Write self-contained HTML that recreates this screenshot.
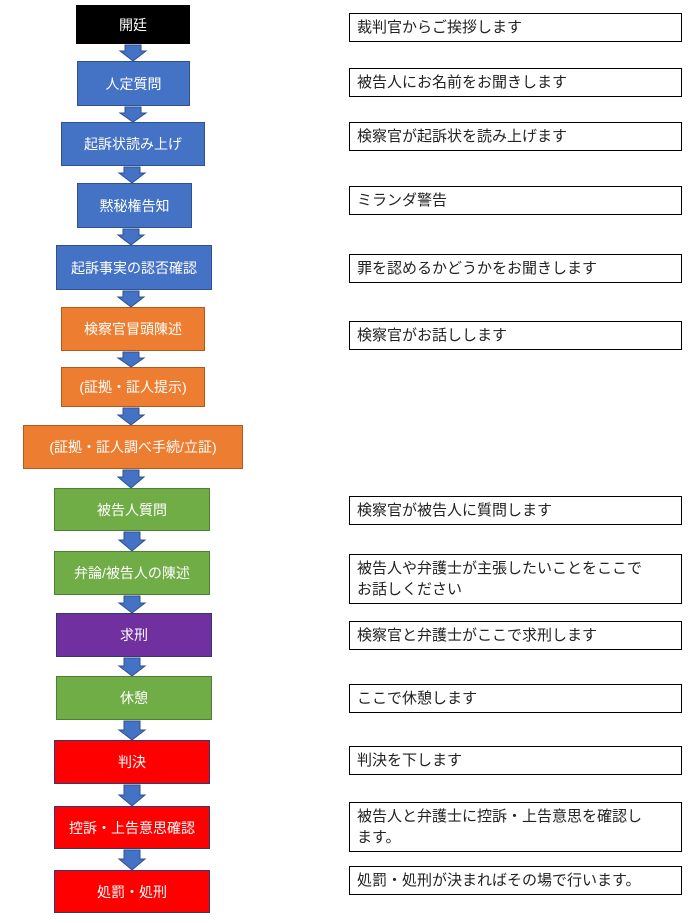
<!DOCTYPE html>
<html><head><meta charset="utf-8"><style>
body{margin:0;width:695px;height:923px;background:#fff;position:relative;font-family:"Liberation Sans","Noto Sans CJK JP",sans-serif;overflow:hidden}
.b{position:absolute;box-sizing:border-box;color:#fff;font-size:14px;display:flex;align-items:center;justify-content:center;border:1.5px solid #2F528F;background:#4472C4}
.o{background:#ED7D31;border-color:#AE5A21}
.g{background:#70AD47;border-color:#507E32}
.p{background:#7030A0;border-color:#2F3A6F}
.r{background:#FF0000;border-color:#2F3A6F}
.k{background:#000;border-color:#000}
.t{position:absolute;left:349px;width:333px;box-sizing:border-box;border:1px solid #000;font-size:15px;padding:3px 7px;line-height:21px;color:#222;white-space:nowrap}
svg{position:absolute;left:0;top:0}
</style></head><body>
<svg width="695" height="923">
<g fill="#4472C4" stroke="#2F528F" stroke-width="1">
<polygon points="125,45 141,45 141,51 146,51 133,61 120,51 125,51"/>
<polygon points="125,107 141,107 141,113 146,113 133,122 120,113 125,113"/>
<polygon points="124,167 140,167 140,173 145,173 132,183 119,173 124,173"/>
<polygon points="123,229 139,229 139,235 144,235 131,245 118,235 123,235"/>
<polygon points="123,291 139,291 139,297 144,297 131,307 118,297 123,297"/>
<polygon points="123,352 139,352 139,358 144,358 131,367 118,358 123,358"/>
<polygon points="123,408 139,408 139,415 144,415 131,425 118,415 123,415"/>
<polygon points="123,470 139,470 139,477 144,477 131,488 118,477 123,477"/>
<polygon points="124,532 140,532 140,540 145,540 132,551 119,540 124,540"/>
<polygon points="124,596 140,596 140,603 145,603 132,613 119,603 124,603"/>
<polygon points="124,658 140,658 140,666 145,666 132,676 119,666 124,666"/>
<polygon points="124,721 140,721 140,730 145,730 132,740 119,730 124,730"/>
<polygon points="124,785 140,785 140,795 145,795 132,806 119,795 124,795"/>
<polygon points="124,850 140,850 140,859 145,859 132,870 119,859 124,859"/>
</g></svg>
<div class="b k" style="left:76px;top:5px;width:114px;height:39px">開廷</div>
<div class="b" style="left:77px;top:61px;width:113px;height:45px">人定質問</div>
<div class="b" style="left:61px;top:122px;width:144px;height:44px">起訴状読み上げ</div>
<div class="b" style="left:77px;top:183px;width:115px;height:45px">黙秘権告知</div>
<div class="b" style="left:56px;top:245px;width:156px;height:45px">起訴事実の認否確認</div>
<div class="b o" style="left:61px;top:307px;width:144px;height:44px">検察官冒頭陳述</div>
<div class="b o" style="left:61px;top:367px;width:144px;height:40px">(証拠・証人提示)</div>
<div class="b o" style="left:23px;top:425px;width:220px;height:44px">(証拠・証人調べ手続/立証)</div>
<div class="b g" style="left:54px;top:488px;width:156px;height:43px">被告人質問</div>
<div class="b g" style="left:54px;top:551px;width:156px;height:44px">弁論/被告人の陳述</div>
<div class="b p" style="left:56px;top:613px;width:156px;height:44px">求刑</div>
<div class="b g" style="left:56px;top:676px;width:156px;height:44px">休憩</div>
<div class="b r" style="left:54px;top:740px;width:156px;height:44px">判決</div>
<div class="b r" style="left:54px;top:806px;width:156px;height:43px">控訴・上告意思確認</div>
<div class="b r" style="left:54px;top:870px;width:156px;height:43px">処罰・処刑</div>

<div class="t" style="top:13px;height:29px">裁判官からご挨拶します</div>
<div class="t" style="top:68px;height:29px">被告人にお名前をお聞きします</div>
<div class="t" style="top:122px;height:29px">検察官が起訴状を読み上げます</div>
<div class="t" style="top:186px;height:29px">ミランダ警告</div>
<div class="t" style="top:254px;height:29px">罪を認めるかどうかをお聞きします</div>
<div class="t" style="top:321px;height:29px">検察官がお話しします</div>
<div class="t" style="top:496px;height:29px">検察官が被告人に質問します</div>
<div class="t" style="top:554px;height:50px">被告人や弁護士が主張したいことをここで<br>お話しください</div>
<div class="t" style="top:621px;height:29px">検察官と弁護士がここで求刑します</div>
<div class="t" style="top:684px;height:29px">ここで休憩します</div>
<div class="t" style="top:746px;height:29px">判決を下します</div>
<div class="t" style="top:802px;height:50px">被告人と弁護士に控訴・上告意思を確認し<br>ます。</div>
<div class="t" style="top:866px;height:29px">処罰・処刑が決まればその場で行います。</div>
</body></html>
